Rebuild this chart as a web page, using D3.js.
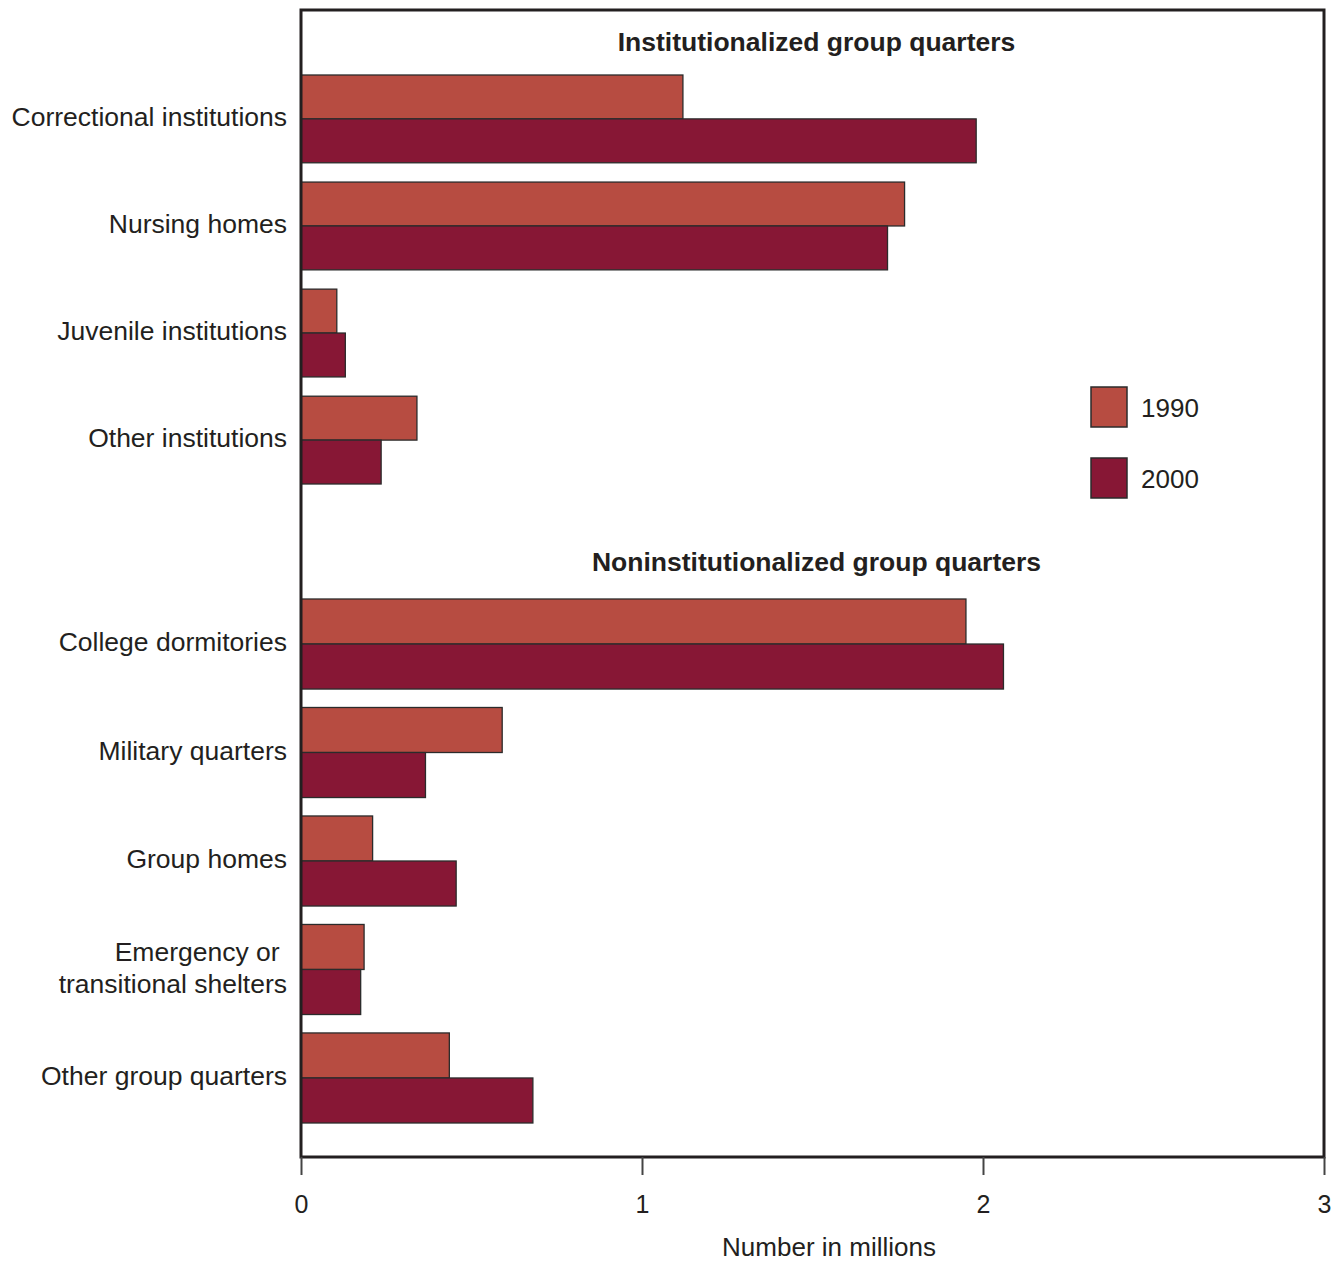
<!DOCTYPE html>
<html>
<head>
<meta charset="utf-8">
<script src="https://cdn.jsdelivr.net/npm/d3@7"></script>
<style>
  body { margin: 0; background: #fff; }
  svg { display: block; font-family: "Liberation Sans", Arial, sans-serif; }
</style>
</head>
<body>
<svg width="1336" height="1262"></svg>
<script>
const years = ["1990", "2000"];

const instCategories = [
  "Correctional institutions",
  "Nursing homes",
  "Juvenile institutions",
  "Other institutions"
];
const inst1990 = [1.12, 1.77, 0.105, 0.34];
const inst2000 = [1.98, 1.72, 0.13, 0.235];

const nonCategories = [
  "College dormitories",
  "Military quarters",
  "Group homes",
  "Emergency or \ntransitional shelters",
  "Other group quarters"
];
const non1990 = [1.95, 0.59, 0.21, 0.185, 0.435];
const non2000 = [2.06, 0.365, 0.455, 0.175, 0.68];

const groupTitles = [
  "Institutionalized group quarters",
  "Noninstitutionalized group quarters"
];
const xTicks = [0, 1, 2, 3];

const colors = { "1990": "#b74c41", "2000": "#871735" };
const ink = "#231f20";

const svg = d3.select("svg");
const plotLeft = 301;
const plotRight = 1324;
const plotTop = 10;
const plotBottom = 1157;

const x = d3.scaleLinear().domain([0, 3]).range([plotLeft, plotRight]);

// two band scales, one per block of categories
const yInst = d3.scaleBand()
  .domain(instCategories)
  .range([75, 75 + 3 * 107 + 88])
  .paddingInner(0.18);
const yNon = d3.scaleBand()
  .domain(nonCategories)
  .range([599, 599 + 4 * 109 + 88])
  .paddingInner(0.17);

function buildRows(cats, v1, v2) {
  return cats.map((c, i) => ({ cat: c, values: { "1990": v1[i], "2000": v2[i] } }));
}

const groups = [
  { title: groupTitles[0], y: yInst, rows: buildRows(instCategories, inst1990, inst2000), dy: -24 },
  { title: groupTitles[1], y: yNon, rows: buildRows(nonCategories, non1990, non2000), dy: -28 }
];

groups.forEach((g) => {
  const yy = d3.scaleBand().domain(years).range([0, g.y.bandwidth()]);

  // header
  svg.append("text")
    .attr("x", (plotLeft + plotRight) / 2 + 4)
    .attr("y", g.y.range()[0] + g.dy)
    .attr("text-anchor", "middle")
    .attr("font-weight", "bold")
    .attr("font-size", 26.5)
    .attr("fill", ink)
    .text(g.title);

  const rowG = svg.append("g")
    .selectAll("g")
    .data(g.rows)
    .join("g")
    .attr("transform", (d) => `translate(0, ${g.y(d.cat)})`);

  rowG.selectAll("rect")
    .data((d) => years.map((yr) => ({ yr, v: d.values[yr] })))
    .join("rect")
    .attr("x", x(0))
    .attr("y", (d) => yy(d.yr))
    .attr("width", (d) => x(d.v) - x(0))
    .attr("height", yy.bandwidth())
    .attr("fill", (d) => colors[d.yr])
    .attr("stroke", "#2b2b2b")
    .attr("stroke-width", 1.3);

  // category labels
  rowG.append("text")
    .attr("x", 287)
    .attr("text-anchor", "end")
    .attr("font-size", 26.5)
    .attr("fill", ink)
    .each(function (d) {
      const lines = d.cat.split("\n");
      const t = d3.select(this);
      const mid = g.y.bandwidth() / 2 - 2;
      const lh = 32;
      lines.forEach((ln, i) => {
        t.append("tspan")
          .attr("x", 287)
          .attr("y", mid + (i - (lines.length - 1) / 2) * lh)
          .attr("dy", "0.35em")
          .text(ln);
      });
    });
});

// frame
svg.append("rect")
  .attr("x", plotLeft)
  .attr("y", plotTop)
  .attr("width", plotRight - plotLeft)
  .attr("height", plotBottom - plotTop)
  .attr("fill", "none")
  .attr("stroke", ink)
  .attr("stroke-width", 3);

// x axis
const xAxis = d3.axisBottom(x)
  .tickValues(xTicks)
  .tickFormat(d3.format("d"))
  .tickSize(18)
  .tickPadding(20);

const axisG = svg.append("g")
  .attr("transform", `translate(0, ${plotBottom})`)
  .call(xAxis);
axisG.select(".domain").remove();
axisG.selectAll(".tick line").attr("stroke", "#444").attr("stroke-width", 2);
axisG.selectAll(".tick text")
  .attr("font-size", 25)
  .attr("font-family", "\"Liberation Sans\", Arial, sans-serif")
  .attr("fill", ink);

svg.append("text")
  .attr("x", 829)
  .attr("y", 1256)
  .attr("text-anchor", "middle")
  .attr("font-size", 26)
  .attr("fill", ink)
  .text("Number in millions");

// legend
const legend = svg.append("g")
  .selectAll("g")
  .data(years)
  .join("g")
  .attr("transform", (d, i) => `translate(1091, ${387 + i * 71})`);

legend.append("rect")
  .attr("width", 36)
  .attr("height", 40)
  .attr("fill", (d) => colors[d])
  .attr("stroke", "#2b2b2b")
  .attr("stroke-width", 1.5);

legend.append("text")
  .attr("x", 50)
  .attr("y", 21)
  .attr("dy", "0.35em")
  .attr("font-size", 26)
  .attr("fill", ink)
  .text((d) => d);
</script>
</body>
</html>
